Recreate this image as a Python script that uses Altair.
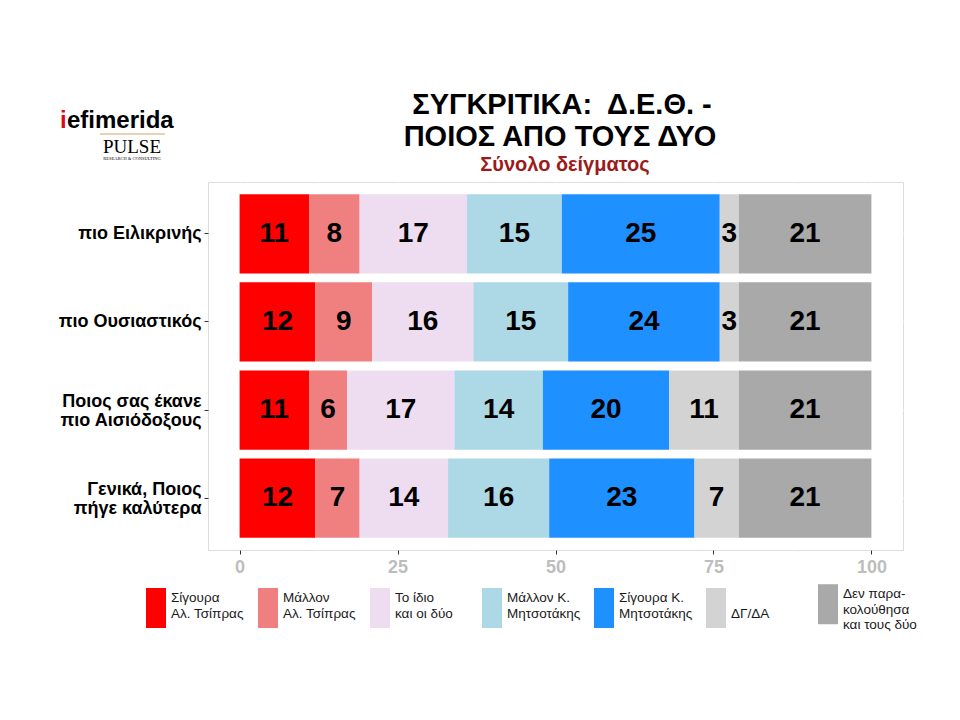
import altair as alt
import pandas as pd

questions = ["πιο Ειλικρινής", "πιο Ουσιαστικός", "Ποιος σας έκανε\nπιο Αισιόδοξους", "Γενικά, Ποιος\nπήγε καλύτερα"]
categories = ["Σίγουρα\nΑλ. Τσίπρας", "Μάλλον\nΑλ. Τσίπρας", "Το ίδιο\nκαι οι δύο", "Μάλλον Κ.\nΜητσοτάκης",
              "Σίγουρα Κ.\nΜητσοτάκης", "ΔΓ/ΔΑ", "Δεν παρα-\nκολούθησα\nκαι τους δύο"]
colors = ["#FF0000", "#F08080", "#EEDDF0", "#ADD8E6", "#1E90FF", "#D3D3D3", "#A9A9A9"]
row1 = [11, 8, 17, 15, 25, 3, 21]
row2 = [12, 9, 16, 15, 24, 3, 21]
row3 = [11, 6, 17, 14, 20, 11, 21]
row4 = [12, 7, 14, 16, 23, 7, 21]
x_ticks = [0, 25, 50, 75, 100]
minor_ticks = [12.5, 37.5, 62.5, 87.5]
title_lines = ["ΣΥΓΚΡΙΤΙΚΑ:\u00a0 Δ.Ε.Θ. -", "ΠΟΙΟΣ ΑΠΟ ΤΟΥΣ ΔΥΟ"]
subtitle_text = "Σύνολο δείγματος"

rows = []
for q, vals in zip(questions, [row1, row2, row3, row4]):
    for i, (c, v) in enumerate(zip(categories, vals)):
        rows.append({"q": q, "cat": c, "ord": i, "v": v})
df = pd.DataFrame(rows)

FONT = "Liberation Sans"

y_enc = alt.Y("q:N", sort=questions, title=None,
              scale=alt.Scale(paddingInner=0.1, paddingOuter=0.14),
              axis=alt.Axis(labelExpr="split(datum.label, '\\n')", labelFont=FONT, labelFontSize=18,
                            labelFontWeight="bold", labelColor="black", labelLineHeight=19,
                            labelOffset={"condition": {"test": "indexof(datum.value, '\\n') >= 0", "value": -8},
                                         "value": 0},
                            tickColor="#333333", tickSize=4, labelPadding=3, domain=False,
                            grid=True, gridColor="white", gridWidth=1.4))

all_ticks = sorted(x_ticks + minor_ticks)
x_axis = alt.Axis(values=all_ticks, title=None, domain=False,
                  labelExpr="datum.value % 25 === 0 ? datum.label : ''",
                  labelFont=FONT, labelFontSize=18, labelFontWeight="bold",
                  labelColor="#BDBDBD", labelPadding=4,
                  tickColor={"condition": {"test": "datum.value % 25 === 0", "value": "#333333"}, "value": "rgba(0,0,0,0)"},
                  tickSize=4,
                  gridColor="white",
                  gridWidth={"condition": {"test": "datum.value % 25 === 0", "value": 1.4}, "value": 0.6})

base = alt.Chart(df)

bars = base.mark_bar().encode(
    y=y_enc,
    x=alt.X("v:Q", stack="zero", scale=alt.Scale(domain=[-5, 105], nice=False, zero=False), axis=x_axis),
    color=alt.Color("cat:N", sort=categories, scale=alt.Scale(domain=categories, range=colors),
                    legend=alt.Legend(title=None, orient="none", legendX=-62, legendY=402,
                                      direction="horizontal", columns=7, gridAlign="all",
                                      columnPadding=13, padding=0,
                                      symbolType="M-1,-1H1V3H-1Z", symbolSize=400,
                                      symbolStrokeWidth=0, symbolOpacity=1,
                                      labelExpr="indexof(datum.label, '\\n') < 0 ? ['', datum.label] : split(datum.label, '\\n')",
                                      labelFont=FONT, labelFontSize=13.5,
                                      labelColor="#1a1a1a", labelOffset=5, labelLimit=200)),
    order=alt.Order("ord:Q"),
)

labels = base.transform_window(
    cum="sum(v)", groupby=["q"], sort=[alt.SortField("ord")]
).transform_calculate(
    mid="datum.cum - datum.v / 2"
).mark_text(font=FONT, fontSize=28, fontWeight="bold", color="black", baseline="middle").encode(
    y=alt.Y("q:N", sort=questions),
    x=alt.X("mid:Q"),
    text=alt.Text("v:Q"),
)

one = pd.DataFrame({"k": [1]})
t1 = alt.Chart(one).mark_text(text=title_lines[0], font=FONT, fontSize=29, fontWeight="bold",
                              color="black", align="center", baseline="alphabetic").encode(
    x=alt.value(354), y=alt.value(-68))
t2 = alt.Chart(one).mark_text(text=title_lines[1], font=FONT, fontSize=29, fontWeight="bold",
                              color="black", align="center", baseline="alphabetic").encode(
    x=alt.value(352), y=alt.value(-36))
t3 = alt.Chart(one).mark_text(text=subtitle_text, font=FONT, fontSize=20, fontWeight="bold",
                              color="#9B1B1B", align="center", baseline="alphabetic").encode(
    x=alt.value(357), y=alt.value(-11))

logo_i = alt.Chart(one).mark_text(text="i", font=FONT, fontSize=24, fontWeight="bold",
                                  color="#E30613", align="left", baseline="alphabetic").encode(
    x=alt.value(-148), y=alt.value(-54))
logo_rest = alt.Chart(one).mark_text(text="efimerida", font=FONT, fontSize=24, fontWeight="bold",
                                     color="black", align="left", baseline="alphabetic").encode(
    x=alt.value(-141), y=alt.value(-54))
logo_line = alt.Chart(one).mark_rule(color="#C9A86A", strokeWidth=1).encode(
    x=alt.value(-108), x2=alt.value(-43), y=alt.value(-48))
logo_pulse = alt.Chart(one).mark_text(text="PULSE", font="Liberation Serif", fontSize=19,
                                      color="black", align="center", baseline="alphabetic").encode(
    x=alt.value(-76), y=alt.value(-29))
logo_sub = alt.Chart(one).mark_text(text="RESEARCH & CONSULTING", font="Liberation Serif", fontSize=4.5,
                                    color="black", align="center", baseline="alphabetic").encode(
    x=alt.value(-76), y=alt.value(-22))

chart = alt.layer(bars, labels, t1, t2, t3, logo_i, logo_rest, logo_line, logo_pulse, logo_sub).properties(
    width=695, height=368,
    autosize=alt.AutoSizeParams(type="none"),
    padding={"left": 200, "top": 174, "right": 49, "bottom": 120},
).configure_view(fill="#EBEBEB", strokeWidth=0).configure(background="white")

chart.save("out.html", embed_options={"renderer": "svg", "actions": False})
